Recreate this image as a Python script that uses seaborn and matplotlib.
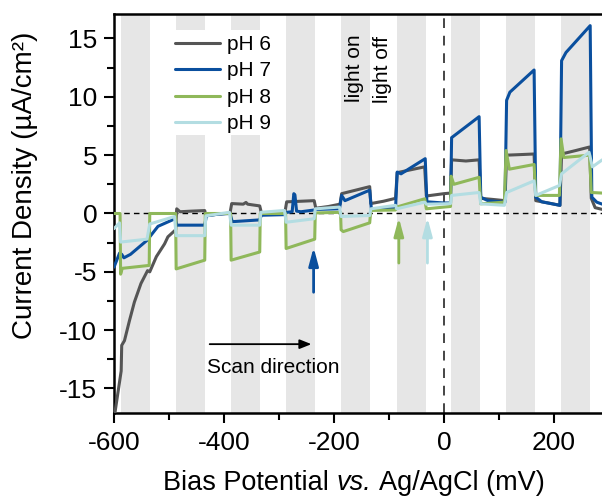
import numpy as np
import pandas as pd
import matplotlib
matplotlib.use("Agg")
import matplotlib.pyplot as plt
from matplotlib.lines import Line2D
from matplotlib.patches import Rectangle
from matplotlib.ticker import MultipleLocator
import seaborn as sns

# ---- data: chopped-light linear sweep, current density (uA/cm2) vs bias (mV) ----
light_on_start = [-588, -487, -387, -287, -187, -86, 13, 113, 213]
light_on_width = 53

ph6_v = [-599, -587, -586, -581, -572, -563, -551, -539, -535, -523, -508, -502, -488,
         -486, -480, -460, -435, -433, -410, -389,
         -386, -365, -360, -357, -350, -335, -332, -310, -289,
         -286, -260, -236, -233, -210, -189,
         -186, -135, -133, -110, -88,
         -85, -60, -35, -32, 0, 12,
         14, 40, 64, 67, 90, 111,
         114, 140, 164, 167, 190, 211,
         214, 240, 265, 268, 275, 288]
ph6_j = [-17.3, -13.5, -11.3, -10.9, -9.2, -7.6, -6.0, -4.9, -5.0, -3.7, -2.6, -2.0, -1.4,
         0.4, 0.15, 0.2, 0.25, -0.2, -0.05, 0.03,
         0.85, 0.8, 0.95, 0.8, 0.75, 0.65, 0.05, 0.1, 0.15,
         1.0, 1.05, 1.1, 0.45, 0.6, 0.8,
         1.7, 2.3, 0.85, 1.05, 1.3,
         3.5, 3.75, 4.0, 1.5, 1.7, 1.75,
         4.6, 4.5, 4.6, 1.3, 1.2, 1.1,
         5.0, 5.05, 5.1, 1.1, 0.9, 0.7,
         5.1, 5.4, 5.7, 1.3, 0.5, 0.35]

ph7_v = [-600, -590, -586, -582, -570, -540, -520, -489,
         -486, -435, -432, -410, -389,
         -385, -335, -332, -290,
         -286, -276, -273, -271, -268, -260, -236, -232, -190,
         -186, -180, -135, -132, -88,
         -85, -78, -34, -31, 0, 12,
         14, 64, 67, 80, 111,
         114, 120, 164, 167, 178, 211,
         214, 222, 266, 269, 278, 288]
ph7_j = [-4.6, -3.4, -3.5, -3.8, -3.5, -2.3, -1.1, -0.45,
         -1.0, -1.0, -0.2, -0.05, 0.0,
         -0.7, -0.55, -0.15, -0.1,
         0.1, 0.15, 1.7, 1.6, 0.2, 0.15, 0.3, 0.35, 0.4,
         1.55, 1.1, 2.0, 0.4, 0.4,
         3.55, 3.4, 4.7, 1.0, 0.9, 0.9,
         6.5, 8.3, 1.4, 1.1, 0.97,
         9.7, 10.4, 12.3, 1.4, 1.0, 0.7,
         13.1, 13.8, 16.1, 1.4, 0.97, 0.8]

ph8_v = [-600, -589, -588, -585, -536, -535, -488,
         -487, -435, -434, -388,
         -387, -335, -334, -288,
         -287, -235, -234, -188,
         -187, -183, -135, -133, -88,
         -86, -35, -32, 0, 12,
         13, 18, 64, 67, 110,
         113, 119, 164, 167, 210,
         213, 218, 265, 268, 288]
ph8_j = [0.0, 0.0, -5.2, -4.7, -4.45, 0.0, 0.0,
         -4.75, -4.0, 0.0, 0.0,
         -4.0, -3.3, 0.0, 0.0,
         -3.0, -2.2, 0.05, 0.1,
         -1.4, -1.55, -0.8, 0.26, 0.3,
         0.55, 1.26, 0.4, 0.55, 0.6,
         3.2, 2.5, 3.1, 0.83, 0.97,
         5.4, 3.8, 4.2, 1.55, 1.55,
         6.4, 4.8, 5.0, 1.8, 1.75]

ph9_v = [-600, -590, -588, -540, -535, -490,
         -487, -435, -433, -390,
         -387, -335, -333, -290,
         -287, -236, -234, -190,
         -187, -135, -133, -88,
         -86, -35, -32, 0, 12,
         14, 64, 67, 110,
         114, 164, 167, 210,
         214, 264, 270, 288]
ph9_j = [-1.3, -0.8, -2.45, -2.2, -0.9, -0.26,
         -1.9, -1.9, -0.2, 0.1,
         -1.0, -1.0, 0.1, 0.26,
         -0.75, -0.45, 0.4, 0.55,
         -0.26, -0.17, 0.4, 0.7,
         0.4, 0.97, 0.8, 0.83, 0.85,
         1.55, 1.8, 0.83, 0.7,
         1.8, 2.8, 1.55, 2.4,
         3.4, 5.25, 4.0, 4.6]

labels = ["pH 6", "pH 7", "pH 8", "pH 9"]
colors = ["#555555", "#0a4f9e", "#8fb85a", "#b3dde2"]

# onset markers (bias, arrow tail, arrow tip)
onset_v = [-237, -82, -30]
onset_tail = [-6.75, -4.25, -4.25]
onset_tip = [-2.9, -0.35, -0.35]
onset_colors = [colors[1], colors[2], colors[3]]

df = pd.concat([
    pd.DataFrame({"v": v, "j": j, "pH": lab})
    for v, j, lab in [(ph6_v, ph6_j, labels[0]), (ph7_v, ph7_j, labels[1]),
                      (ph8_v, ph8_j, labels[2]), (ph9_v, ph9_j, labels[3])]
], ignore_index=True)

sns.set_theme(style="ticks")
plt.rcParams["font.family"] = ["Liberation Sans", "DejaVu Sans"]
plt.rcParams["axes.unicode_minus"] = False
for key in ["text.color", "axes.labelcolor", "xtick.color", "ytick.color", "axes.edgecolor"]:
    plt.rcParams[key] = "black"

W, H = 602, 498
fig = plt.figure(figsize=(W / 100, H / 100), dpi=100)
ax = fig.add_axes([0.1894, 0.1707, 1 - 0.1894, 0.9719 - 0.1707])

# light-on intervals
for s in light_on_start:
    ax.axvspan(s, s + light_on_width, color="#e6e6e6", lw=0, zorder=0)

# blank area behind the legend
ax.add_patch(Rectangle((0.0738, 0.697), 0.2766, 0.263, transform=ax.transAxes,
                       facecolor="white", edgecolor="none", zorder=0.5))

ax.axhline(0, color="black", lw=1.0, dashes=(4, 3), zorder=1)
ax.axvline(0, color="#444444", lw=1.4, dashes=(5, 4), zorder=1)

sns.lineplot(data=df, x="v", y="j", hue="pH", palette=colors, sort=False,
             estimator=None, lw=2.2, legend=False, ax=ax, zorder=3)

for x, t0, t1, c in zip(onset_v, onset_tail, onset_tip, onset_colors):
    ax.annotate("", xy=(x, t1), xytext=(x, t0),
                arrowprops=dict(arrowstyle="-|>,head_length=0.6,head_width=0.16",
                                mutation_scale=18, color=c, lw=2, shrinkA=0, shrinkB=0),
                zorder=4)

# scan direction
ax.annotate("", xy=(-241, -11.2), xytext=(-426, -11.2),
            arrowprops=dict(arrowstyle="-|>,head_length=0.5,head_width=0.2",
                            mutation_scale=14, color="black", lw=1.3, shrinkA=0, shrinkB=0))
ax.text(-311, -13.2, "Scan direction", ha="center", va="center", fontsize=15)

ax.text(-162, 12.45, "light on", rotation=90, ha="center", va="center", fontsize=15)
ax.text(-111, 12.3, "light off", rotation=90, ha="center", va="center", fontsize=15)

handles = [Line2D([], [], color=c, lw=2.2) for c in colors]
ax.legend(handles, labels, loc="upper left", bbox_to_anchor=(0.125, 0.9475),
          frameon=False, fontsize=15, handlelength=2.15, handletextpad=0.35,
          labelspacing=0.36, borderpad=0, borderaxespad=0)

ax.set_xlim(-600, 287.5)
ax.set_ylim(-17.1, 17.1)
ax.xaxis.set_major_locator(MultipleLocator(200))
ax.xaxis.set_minor_locator(MultipleLocator(100))
ax.yaxis.set_major_locator(MultipleLocator(5))
ax.yaxis.set_minor_locator(MultipleLocator(2.5))
ax.tick_params(which="major", direction="out", length=7, width=1.5, labelsize=19)
ax.tick_params(which="minor", direction="out", length=5, width=1.5)
ax.tick_params(axis="x", pad=6)
ax.tick_params(axis="y", pad=5)

for side in ["left", "bottom", "top"]:
    ax.spines[side].set_linewidth(1.8)
ax.spines["right"].set_visible(False)

# x-axis title with italic "vs.", laid out piece by piece on one baseline
ax.set_xlabel("")
xl_size = 19.5
space_px = 0.278 * xl_size * 100 / 72
base_y = 8 / H
renderer = fig.canvas.get_renderer()
x_px = 163
for piece, style in [("Bias Potential", "normal"), ("vs.", "italic"), ("Ag/AgCl (mV)", "normal")]:
    t = fig.text(x_px / W, base_y, piece, fontsize=xl_size, style=style,
                 ha="left", va="baseline")
    x_px = t.get_window_extent(renderer).x1 + space_px

ax.set_ylabel("Current Density (µA/cm²)", fontsize=20, va="center")
ax.yaxis.set_label_coords(-0.182, 0.571)

fig.savefig("out.png", dpi=100)
